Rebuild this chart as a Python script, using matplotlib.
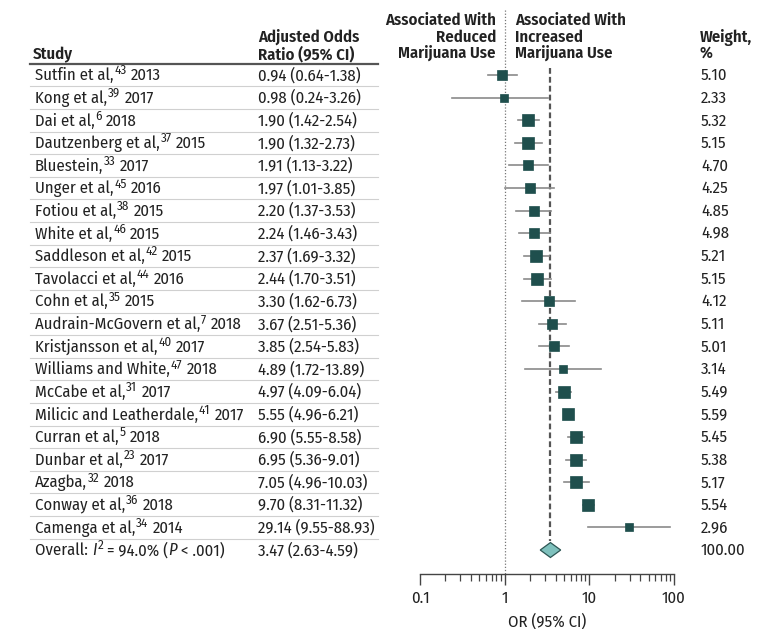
import matplotlib
matplotlib.use("Agg")
import matplotlib.pyplot as plt
from matplotlib.transforms import blended_transform_factory
from matplotlib.ticker import FixedLocator, FixedFormatter, LogLocator, NullFormatter
from matplotlib.patches import Polygon
from matplotlib.lines import Line2D
from matplotlib import font_manager

avail = {f.name for f in font_manager.fontManager.ttflist}
fam = "Liberation Sans"
for cand in ["Fira Sans Condensed", "IBM Plex Sans Condensed", "Roboto Condensed"]:
    if cand in avail:
        fam = cand
        break
plt.rcParams['font.family'] = [fam, 'DejaVu Sans']

authors = ["Sutfin et al", "Kong et al", "Dai et al", "Dautzenberg et al", "Bluestein",
           "Unger et al", "Fotiou et al", "White et al", "Saddleson et al", "Tavolacci et al",
           "Cohn et al", "Audrain-McGovern et al", "Kristjansson et al", "Williams and White",
           "McCabe et al", "Milicic and Leatherdale", "Curran et al", "Dunbar et al", "Azagba",
           "Conway et al", "Camenga et al"]
refs = ["43", "39", "6", "37", "33", "45", "38", "46", "42", "44", "35", "7", "40", "47",
        "31", "41", "5", "23", "32", "36", "34"]
years = ["2013", "2017", "2018", "2015", "2017", "2016", "2015", "2015", "2015", "2016",
         "2015", "2018", "2017", "2018", "2017", "2017", "2018", "2017", "2018", "2018", "2014"]
odds = [0.94, 0.98, 1.90, 1.90, 1.91, 1.97, 2.20, 2.24, 2.37, 2.44, 3.30, 3.67, 3.85, 4.89,
        4.97, 5.55, 6.90, 6.95, 7.05, 9.70, 29.14]
ci_low = [0.64, 0.24, 1.42, 1.32, 1.13, 1.01, 1.37, 1.46, 1.69, 1.70, 1.62, 2.51, 2.54, 1.72,
          4.09, 4.96, 5.55, 5.36, 4.96, 8.31, 9.55]
ci_high = [1.38, 3.26, 2.54, 2.73, 3.22, 3.85, 3.53, 3.43, 3.32, 3.51, 6.73, 5.36, 5.83, 13.89,
           6.04, 6.21, 8.58, 9.01, 10.03, 11.32, 88.93]
weights = [5.10, 2.33, 5.32, 5.15, 4.70, 4.25, 4.85, 4.98, 5.21, 5.15, 4.12, 5.11, 5.01, 3.14,
           5.49, 5.59, 5.45, 5.38, 5.17, 5.54, 2.96]
overall_or, overall_lo, overall_hi = 3.47, 2.63, 4.59
overall_weight = "100.00"
# (text, italic, superscript, gap-before in points)
overall_pieces = [("Overall: ", False, False, 0), ("I", True, False, 0), ("2", False, True, 1.5),
                  ("= 94.0% (", False, False, 2.5), ("P", True, False, 0), (" < .001)", False, False, 0)]
xticks = [0.1, 1, 10, 100]
xtick_labels = ["0.1", "1", "10", "100"]

W, H = 780, 629
fig = plt.figure(figsize=(W / 100, H / 100), dpi=100)
renderer = fig.canvas.get_renderer()

probe = fig.text(0, 0, "0.94 (0.64-1.38)", fontsize=10)
pw = probe.get_window_extent(renderer).width
probe.remove()
fs = 10 * 103.0 / pw
fs = max(9.0, min(fs, 12.5))

def fx(px):
    return px / W

def fy(px):
    return 1 - px / H

row0, step = 75.0, 22.62
top_px, bot_px = 64.0, 574.0
ax_left, ax_right = 420.0, 674.0
ax = fig.add_axes([fx(ax_left), fy(bot_px), fx(ax_right - ax_left), (bot_px - top_px) / H])
ax.set_xscale('log')
ax.set_xlim(0.1, 100)
ymax = (top_px - row0) / step
ymin = (bot_px - row0) / step
ax.set_ylim(ymin, ymax)

def ypx(px):
    return (px - row0) / step

for s in ['top', 'right', 'left']:
    ax.spines[s].set_visible(False)
ax.spines['bottom'].set_color('#444444')
ax.spines['bottom'].set_linewidth(1.0)
ax.set_yticks([])
ax.xaxis.set_major_locator(FixedLocator(xticks))
ax.xaxis.set_major_formatter(FixedFormatter(xtick_labels))
ax.xaxis.set_minor_locator(LogLocator(base=10, subs=range(2, 10)))
ax.xaxis.set_minor_formatter(NullFormatter())
ax.tick_params(axis='x', which='major', length=8, width=1.0, color='#444444',
               labelsize=fs, labelcolor='#222222', pad=4)
ax.tick_params(axis='x', which='minor', length=5, width=0.9, color='#444444')
ax.set_xlabel("OR (95% CI)", fontsize=fs, color='#222222', labelpad=5)
ax.patch.set_alpha(0)

mark_col = '#1f4f4d'
ci_col = '#8a8a8a'
n = len(odds)

ax.plot([1, 1], [ypx(10), ymin], ls=(0, (1, 1.5)), color='#777777', lw=0.9, clip_on=False, zorder=1)
ax.plot([overall_or, overall_or], [ypx(68), n - 0.38], ls=(0, (2.6, 1.4)), color='#555555',
        lw=1.6, zorder=1, clip_on=False)

for i in range(n):
    ax.plot([ci_low[i], ci_high[i]], [i, i], color=ci_col, lw=1.2, zorder=2)
    side = 3.5 * weights[i] ** 0.5
    ax.plot([odds[i]], [i], marker='s', ms=side, color=mark_col, mec=mark_col, mew=0.5, zorder=3)

dh = 0.33
diamond = Polygon([[overall_lo, n], [overall_or, n - dh], [overall_hi, n], [overall_or, n + dh]],
                  closed=True, facecolor='#7fc1bd', edgecolor='#2d5654', lw=0.9, zorder=3)
ax.add_patch(diamond)

tr = blended_transform_factory(fig.transFigure, ax.transData)
tc = '#222222'
base_off = 3.8
sup_raise = 4.2
sup_scale = 0.78

def chain(x_px, yrow, pieces):
    prev = None
    for text, ital, sup, gap in pieces:
        dy = -base_off + (sup_raise if sup else 0)
        size = fs * (sup_scale if sup else 1)
        kw = dict(textcoords='offset points', va='baseline', ha='left', fontsize=size,
                  color=tc, style='italic' if ital else 'normal', annotation_clip=False)
        if prev is None:
            prev = ax.annotate(text, xy=(fx(x_px), yrow), xycoords=tr, xytext=(0, dy), **kw)
        else:
            prev = ax.annotate(text, xy=(1, yrow), xycoords=(prev, tr), xytext=(gap, dy), **kw)

def plain(x_px, yrow, text):
    ax.annotate(text, xy=(fx(x_px), yrow), xycoords=tr, xytext=(0, -base_off),
                textcoords='offset points', va='baseline', ha='left', fontsize=fs, color=tc,
                annotation_clip=False)

for i in range(n):
    chain(35, i, [(authors[i] + ",", False, False, 0), (refs[i], False, True, 0.6),
                  (years[i], False, False, 3.0)])
    plain(258, i, f"{odds[i]:.2f} ({ci_low[i]:.2f}-{ci_high[i]:.2f})")
    plain(701, i, f"{weights[i]:.2f}")
chain(35, n, overall_pieces)
plain(258, n, f"{overall_or:.2f} ({overall_lo:.2f}-{overall_hi:.2f})")
plain(701, n, overall_weight)

for i in range(n):
    fig.add_artist(Line2D([fx(30), fx(378)], [fy(row0 + step * (i + 0.5))] * 2,
                          color='#d0d0d0', lw=0.8))
fig.add_artist(Line2D([fx(30), fx(378)], [fy(64)] * 2, color='#555555', lw=1.6))

def htxt(x, y, s, ha='left'):
    fig.text(fx(x), fy(y), s, fontsize=fs, fontweight='semibold', color=tc, ha=ha, va='baseline')

htxt(33, 59, "Study")
htxt(258, 42, "Adjusted Odds")
htxt(258, 59, "Ratio (95% CI)")
htxt(496, 25, "Associated With", ha='right')
htxt(496, 41.5, "Reduced", ha='right')
htxt(496, 58, "Marijuana Use", ha='right')
htxt(515, 25, "Associated With")
htxt(515, 41.5, "Increased")
htxt(515, 58, "Marijuana Use")
htxt(700, 42, "Weight,")
htxt(700, 58, "%")

fig.savefig("out.png", dpi=100)
